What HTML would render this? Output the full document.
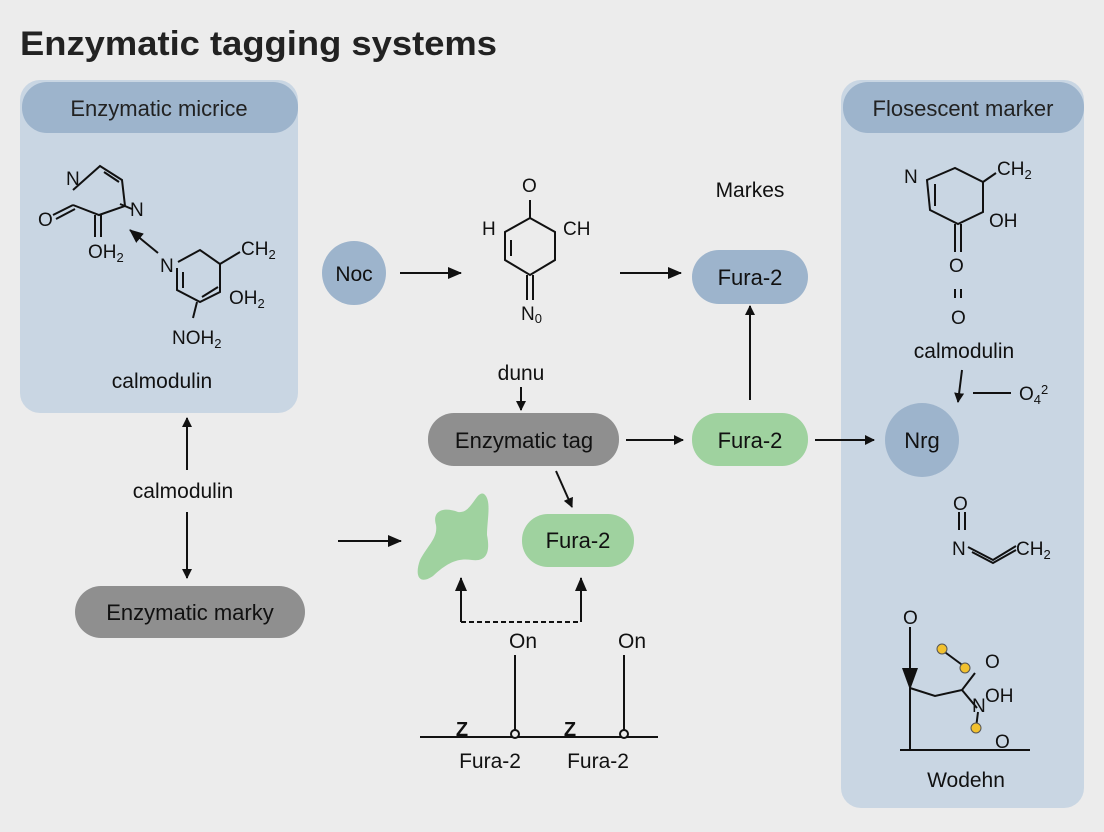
<!DOCTYPE html>
<html><head><style>
body{margin:0;width:1104px;height:832px;background:#ececec;overflow:hidden;font-family:"Liberation Sans",sans-serif}
svg{position:absolute;left:0;top:0}
</style></head><body>
<svg width="1104" height="832" viewBox="0 0 1104 832" font-family="Liberation Sans, sans-serif">
<defs><marker id="a" markerWidth="10" markerHeight="10" refX="9" refY="5" orient="auto" markerUnits="userSpaceOnUse"><path d="M0,0 L10,5 L0,10z" fill="#111"/></marker>
<marker id="b" markerWidth="14" markerHeight="14" refX="13" refY="7" orient="auto" markerUnits="userSpaceOnUse"><path d="M0,1 L14,7 L0,13z" fill="#111"/></marker></defs>
<rect width="1104" height="832" fill="#ececec"/>
<text x="20" y="55" font-size="34" font-weight="bold" fill="#222" textLength="477" lengthAdjust="spacingAndGlyphs">Enzymatic tagging systems</text>
<!-- left panel -->
<rect x="20" y="80" width="278" height="333" rx="20" fill="#c9d6e3"/>
<rect x="22" y="82" width="276" height="51" rx="25" fill="#9db4cc"/>
<text x="159" y="116" font-size="22" text-anchor="middle" fill="#222">Enzymatic micrice</text>
<g stroke="#111" stroke-width="2" fill="none">
<path d="M73,190 L100,166 L122,180 L125,206 L99,215 L73,205"/>
<path d="M104,172 L119,182"/><path d="M73,205 L53,215"/><path d="M75,209 L56,219"/>
<path d="M95,215 L95,237"/><path d="M101,215 L101,237"/>
<path d="M120,204 L132,209"/>
<path d="M158,253 L130,230" marker-end="url(#b)"/>
<path d="M178,262 L200,250 L220,264 L220,292 L200,302 L177,290 L177,268"/>
<path d="M183,272 L183,288"/><path d="M202,297 L218,287"/>
<path d="M220,264 L240,252"/><path d="M197,302 L193,318"/>
</g>
<g font-size="19" fill="#111">
<text x="66" y="185">N</text><text x="130" y="216">N</text><text x="38" y="226">O</text>
<text x="88" y="258">OH<tspan font-size="13" dy="4">2</tspan></text>
<text x="160" y="272">N</text><text x="241" y="255">CH<tspan font-size="13" dy="4">2</tspan></text>
<text x="229" y="304">OH<tspan font-size="13" dy="4">2</tspan></text>
<text x="172" y="344">NOH<tspan font-size="13" dy="4">2</tspan></text>
</g>
<text x="162" y="388" font-size="21" text-anchor="middle" fill="#111">calmodulin</text>
<line x1="187" y1="470" x2="187" y2="418" stroke="#111" stroke-width="2" marker-end="url(#a)"/>
<text x="183" y="498" font-size="21" text-anchor="middle" fill="#111">calmodulin</text>
<line x1="187" y1="512" x2="187" y2="578" stroke="#111" stroke-width="2" marker-end="url(#a)"/>
<rect x="75" y="586" width="230" height="52" rx="26" fill="#8f8f8f"/>
<text x="190" y="620" font-size="22" text-anchor="middle" fill="#111">Enzymatic marky</text>
<!-- right panel -->
<rect x="841" y="80" width="243" height="728" rx="20" fill="#c9d6e3"/>
<rect x="843" y="82" width="241" height="51" rx="25" fill="#9db4cc"/>
<text x="963" y="116" font-size="22" text-anchor="middle" fill="#222">Flosescent marker</text>
<g stroke="#111" stroke-width="2" fill="none">
<path d="M927,180 L955,168 L983,182 L983,212 L958,224 L930,210 Z"/>
<path d="M935,184 L935,206"/><path d="M983,182 L996,173"/>
<path d="M955,224 L955,252"/><path d="M961,224 L961,252"/>
<path d="M955,289 L955,298"/><path d="M961,289 L961,298"/>
<path d="M962,370 L958,402" marker-end="url(#a)"/><path d="M973,393 L1011,393"/>
</g>
<g font-size="19" fill="#111">
<text x="904" y="183">N</text><text x="997" y="175">CH<tspan font-size="13" dy="4">2</tspan></text>
<text x="989" y="227">OH</text><text x="949" y="272">O</text><text x="951" y="324">O</text>
<text x="1019" y="400">O<tspan font-size="13" dy="4">4</tspan><tspan font-size="13" dy="-10">2</tspan></text>
</g>
<text x="964" y="358" font-size="21" text-anchor="middle" fill="#111">calmodulin</text>
<circle cx="922" cy="440" r="37" fill="#9db4cc"/>
<text x="922" y="448" font-size="22" text-anchor="middle" fill="#111">Nrg</text>
<g stroke="#111" stroke-width="2" fill="none">
<path d="M959,512 L959,530"/><path d="M965,512 L965,530"/>
<path d="M968,547 L993,560 L1016,546"/><path d="M972,552 L993,563 L1016,550"/>
<path d="M910,627 L910,750"/><path d="M900,750 L1030,750"/>
<path d="M910,688 L935,696 L962,690 L975,673"/>
<path d="M942,650 L965,667"/><path d="M962,690 L977,708"/><path d="M978,712 L976,728"/>
</g>
<path d="M902,668 L918,668 L910,690z" fill="#111"/>
<g font-size="19" fill="#111">
<text x="953" y="510">O</text><text x="952" y="555">N</text><text x="1016" y="555">CH<tspan font-size="13" dy="4">2</tspan></text>
<text x="903" y="624">O</text><text x="985" y="668">O</text><text x="985" y="702">OH</text><text x="972" y="712">N</text><text x="995" y="748">O</text>
</g>
<g fill="#f2c12e" stroke="#555" stroke-width="1"><circle cx="942" cy="649" r="5"/><circle cx="965" cy="668" r="5"/><circle cx="976" cy="728" r="5"/></g>
<text x="966" y="787" font-size="21" text-anchor="middle" fill="#111">Wodehn</text>
<!-- center -->
<circle cx="354" cy="273" r="32" fill="#9db4cc"/>
<text x="354" y="281" font-size="21" text-anchor="middle" fill="#111">Noc</text>
<line x1="400" y1="273" x2="461" y2="273" stroke="#111" stroke-width="2" marker-end="url(#b)"/>
<g stroke="#111" stroke-width="2" fill="none">
<path d="M530,218 L555,232 L555,260 L530,275 L505,260 L505,232 Z"/>
<path d="M511,240 L511,256"/><path d="M530,200 L530,218"/>
<path d="M527,275 L527,300"/><path d="M533,275 L533,300"/>
</g>
<g font-size="19" fill="#111"><text x="522" y="192">O</text><text x="482" y="235">H</text><text x="563" y="235">CH</text><text x="521" y="320">N<tspan font-size="13" dy="3">0</tspan></text></g>
<line x1="620" y1="273" x2="681" y2="273" stroke="#111" stroke-width="2" marker-end="url(#b)"/>
<text x="750" y="197" font-size="21" text-anchor="middle" fill="#111">Markes</text>
<rect x="692" y="250" width="116" height="54" rx="27" fill="#9db4cc"/>
<text x="750" y="285" font-size="22" text-anchor="middle" fill="#111">Fura-2</text>
<line x1="750" y1="400" x2="750" y2="306" stroke="#111" stroke-width="2" marker-end="url(#a)"/>
<text x="521" y="380" font-size="21" text-anchor="middle" fill="#111">dunu</text>
<line x1="521" y1="387" x2="521" y2="410" stroke="#111" stroke-width="2" marker-end="url(#a)"/>
<rect x="428" y="413" width="191" height="53" rx="26" fill="#8f8f8f"/>
<text x="524" y="448" font-size="22" text-anchor="middle" fill="#111">Enzymatic tag</text>
<line x1="626" y1="440" x2="683" y2="440" stroke="#111" stroke-width="2" marker-end="url(#a)"/>
<rect x="692" y="413" width="116" height="53" rx="26" fill="#9fd29f"/>
<text x="750" y="448" font-size="22" text-anchor="middle" fill="#111">Fura-2</text>
<line x1="815" y1="440" x2="874" y2="440" stroke="#111" stroke-width="2" marker-end="url(#a)"/>
<line x1="556" y1="471" x2="572" y2="507" stroke="#111" stroke-width="2" marker-end="url(#a)"/>
<rect x="522" y="514" width="112" height="53" rx="26" fill="#9fd29f"/>
<text x="578" y="548" font-size="22" text-anchor="middle" fill="#111">Fura-2</text>
<path d="M484,494 C492,500 487,520 487,535 C490,550 488,562 472,560 C458,558 448,562 433,576 C420,585 414,577 420,560 C428,545 438,538 436,525 C432,512 442,506 458,512 C472,514 476,490 484,494Z" fill="#9fd29f"/>
<line x1="338" y1="541" x2="401" y2="541" stroke="#111" stroke-width="2" marker-end="url(#b)"/>
<path d="M461,622 L461,578" stroke="#111" stroke-width="2" marker-end="url(#b)"/>
<path d="M581,622 L581,578" stroke="#111" stroke-width="2" marker-end="url(#b)"/>
<path d="M461,622 L581,622" stroke="#111" stroke-width="2" stroke-dasharray="5,3"/>
<text x="523" y="648" font-size="21" text-anchor="middle" fill="#111">On</text>
<text x="632" y="648" font-size="21" text-anchor="middle" fill="#111">On</text>
<g stroke="#111" stroke-width="2" fill="none">
<path d="M515,655 L515,733"/><path d="M624,655 L624,733"/>
<path d="M420,737 L658,737"/>
<circle cx="515" cy="734" r="4" fill="#ececec"/><circle cx="624" cy="734" r="4" fill="#ececec"/>
</g>
<text x="462" y="736" font-size="20" font-weight="bold" text-anchor="middle" fill="#111">Z</text>
<text x="570" y="736" font-size="20" font-weight="bold" text-anchor="middle" fill="#111">Z</text>
<text x="490" y="768" font-size="21" text-anchor="middle" fill="#111">Fura-2</text>
<text x="598" y="768" font-size="21" text-anchor="middle" fill="#111">Fura-2</text>
</svg>
</body></html>
